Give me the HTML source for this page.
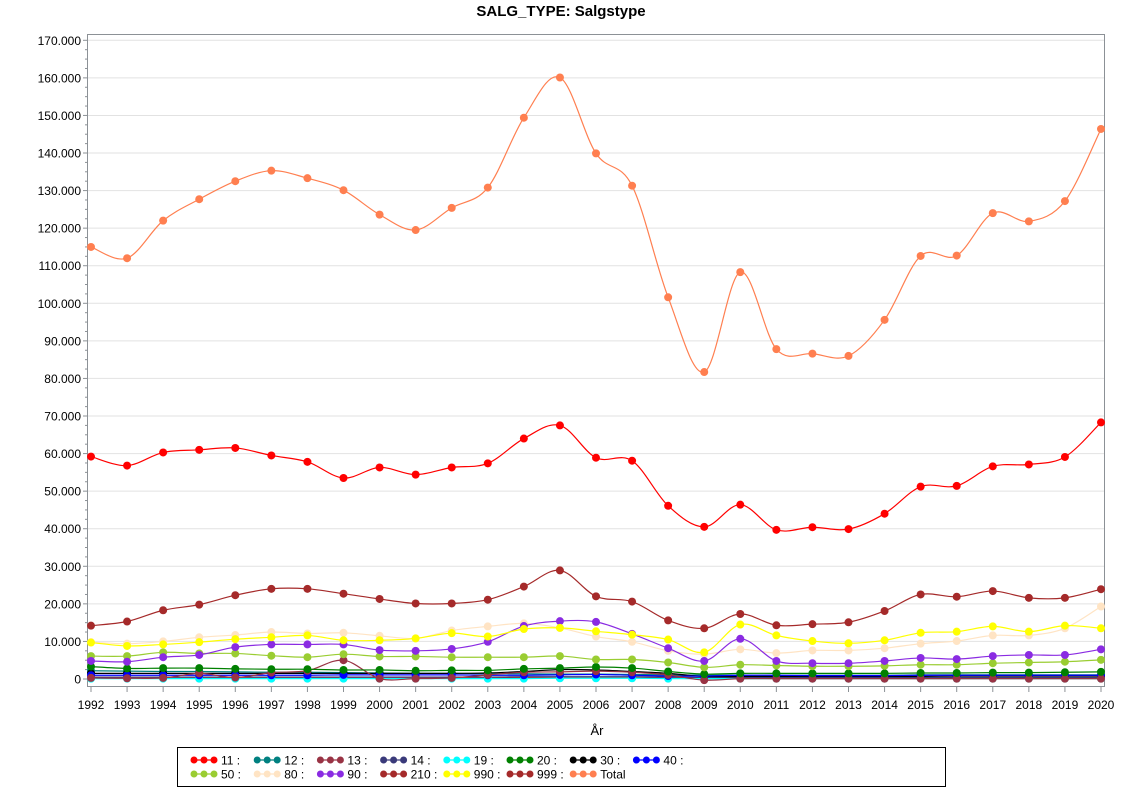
<!DOCTYPE html>
<html><head><meta charset="utf-8"><style>
body{margin:0;background:#fff;}
svg text{font-family:"Liberation Sans",Arial,sans-serif;fill:#000;}
</style></head><body>
<svg id="s" width="1122" height="793" xmlns="http://www.w3.org/2000/svg">
<rect width="1122" height="793" fill="#fff"/>
<text x="561" y="16" font-size="15" font-weight="bold" text-anchor="middle">SALG_TYPE: Salgstype</text>
<g id="grid"></g>
<rect x="87.5" y="34.5" width="1017" height="652" fill="none" stroke="#8c9196" stroke-width="1"/>
<g id="series"></g>
<text x="597" y="735" font-size="13" text-anchor="middle">År</text>
<rect x="177.5" y="747.5" width="768" height="39" fill="none" stroke="#000"/>
<g id="leg"></g>
</svg>
<script>
const NS="http://www.w3.org/2000/svg";
function el(t,a,p){const e=document.createElementNS(NS,t);for(const k in a)e.setAttribute(k,a[k]);p.appendChild(e);return e;}
const X0=91,DX=(1101-91)/28,Y0=679,PY=(679-40.3)/170;
const xf=i=>X0+i*DX, yf=v=>Y0-v*PY;
const g=document.getElementById('grid');
for(let k=0;k<=17;k++){const y=yf(k*10);
 if(k>0) el('line',{x1:88,x2:1104,y1:y,y2:y,stroke:'#e2e2e2'},g);
 el('line',{x1:83,x2:88,y1:y,y2:y,stroke:'#8c9196'},g);
 const t=el('text',{x:81,y:y+4.5,'font-size':12,'text-anchor':'end'},g);
 t.textContent=k==0?'0':(k*10)+'.000';
 if(k<17)for(let m=1;m<4;m++){const yy=yf(k*10+m*2.5);el('line',{x1:85,x2:88,y1:yy,y2:yy,stroke:'#8c9196'},g);}
}
for(let i=0;i<29;i++){const x=xf(i);el('line',{x1:x,x2:x,y1:687,y2:692,stroke:'#8c9196'},g);
 const t=el('text',{x:x,y:709,'font-size':12,'text-anchor':'middle'},g);t.textContent=1992+i;}
const S=[
['12','#008080',[2.2,2.1,2.0,2.0,1.9,1.8,1.8,1.7,1.6,1.5,1.5,1.4,1.4,1.3,1.3,1.2,1.1,1.0,1.0,1.0,1.0,1.0,1.0,1.1,1.1,1.1,1.1,1.1,1.1]],
['14','#3a3a7a',[0.5,0.5,0.5,0.5,0.5,0.5,0.5,0.5,0.5,0.5,0.5,0.5,0.6,0.6,0.6,0.6,0.5,0.4,0.4,0.4,0.4,0.4,0.4,0.4,0.4,0.4,0.4,0.4,0.4]],
['210','#a52a2a',[0.2,0.2,0.2,0.2,0.2,0.2,0.2,0.2,0.2,0.2,0.2,0.2,0.3,0.3,0.3,0.3,0.2,0.1,0.1,0.1,0.1,0.1,0.1,0.1,0.1,0.1,0.1,0.1,0.1]],
['19','#00ffff',[0.1,0.1,0.1,0.1,0.1,0.1,0.1,0.1,0.1,0.1,0.1,0.1,0.1,0.2,0.2,0.2,0.1,0.1,0.1,0.1,0.1,0.1,0.1,0.1,0.1,0.1,0.1,0.1,0.1]],
['30','#000000',[1.5,1.5,1.5,1.5,1.5,1.5,1.5,1.5,1.5,1.5,1.5,1.6,2.0,2.5,2.4,2.0,1.5,0.7,0.7,0.7,0.7,0.7,0.7,0.7,0.8,0.8,0.8,0.8,0.8]],
['40','#0000ff',[1.0,1.0,1.0,1.0,1.0,1.0,1.0,1.1,1.1,1.1,1.1,1.0,1.0,1.1,1.2,1.0,0.8,0.8,1.0,1.0,0.9,0.9,0.9,1.0,1.0,1.0,1.0,1.0,1.0]],
['13','#993344',[0.3,0.2,0.3,1.5,0.4,1.7,2.2,5.0,0.1,0.1,0.3,1.1,1.8,1.9,2.1,1.8,1.1,-0.3,0.1,0.1,0.1,0.1,0.1,0.1,0.1,0.1,0.1,0.1,0.1]],
['20','#008000',[3.3,2.8,2.9,2.9,2.7,2.6,2.6,2.4,2.4,2.2,2.3,2.3,2.7,2.9,3.2,2.9,2.0,1.3,1.5,1.5,1.5,1.5,1.5,1.6,1.6,1.7,1.7,1.8,1.9]],
['50','#9acd32',[6.1,6.1,7.1,6.8,6.8,6.2,5.8,6.6,6.0,6.0,5.8,5.8,5.8,6.1,5.2,5.2,4.4,3.1,3.8,3.6,3.4,3.4,3.5,3.8,3.8,4.2,4.4,4.6,5.1]],
['80','#ffe4c4',[9.8,9.4,10.0,11.1,11.7,12.5,12.1,12.3,11.5,10.8,12.9,14.0,14.8,13.6,11.3,9.9,7.5,6.6,7.9,6.9,7.6,7.6,8.2,9.4,10.1,11.6,11.6,13.5,19.3]],
['90','#8a2be2',[4.8,4.6,5.8,6.4,8.5,9.2,9.2,9.2,7.7,7.5,8.0,9.9,14.1,15.4,15.2,12.0,8.2,4.8,10.7,4.8,4.2,4.2,4.8,5.6,5.3,6.1,6.4,6.4,7.9]],
['990','#ffff00',[9.7,8.8,9.2,9.8,10.6,11.1,11.6,10.3,10.3,10.8,12.2,11.3,13.3,13.6,12.7,11.8,10.5,7.1,14.5,11.6,10.1,9.5,10.3,12.3,12.6,14.0,12.6,14.2,13.5]],
['999','#a52a2a',[14.2,15.3,18.3,19.8,22.3,24.0,24.0,22.7,21.3,20.1,20.1,21.1,24.6,28.9,22.0,20.6,15.6,13.5,17.3,14.3,14.6,15.1,18.1,22.5,21.9,23.4,21.6,21.6,23.9]],
['11','#ff0000',[59.2,56.8,60.3,61.0,61.5,59.5,57.8,53.5,56.3,54.4,56.3,57.4,64.0,67.5,58.9,58.1,46.1,40.5,46.4,39.7,40.4,39.9,44.0,51.2,51.4,56.6,57.1,59.1,68.3]],
['Total','#ff7f50',[115,112,122,127.7,132.5,135.3,133.3,130.1,123.6,119.5,125.4,130.8,149.4,160.1,139.9,131.3,101.6,81.7,108.3,87.8,86.6,86.0,95.6,112.6,112.7,124.0,121.8,127.2,146.4]]
];
const sg=document.getElementById('series');
function path(v){const p=v.map((d,i)=>[xf(i),yf(d)]);let s='M'+p[0][0]+' '+p[0][1];
 for(let i=0;i<p.length-1;i++){const a=p[Math.max(i-1,0)],b=p[i],c=p[i+1],d=p[Math.min(i+2,p.length-1)];
  s+=' C'+(b[0]+(c[0]-a[0])/6)+' '+(b[1]+(c[1]-a[1])/6)+' '+(c[0]-(d[0]-b[0])/6)+' '+(c[1]-(d[1]-b[1])/6)+' '+c[0]+' '+c[1];}
 return s;}
S.forEach(([n,c,v])=>{el('path',{d:path(v),fill:'none',stroke:c,'stroke-width':1.2},sg);
 v.forEach((d,i)=>el('circle',{cx:xf(i),cy:yf(d),r:4,fill:c},sg));});
const L=[['11','#ff0000'],['12','#008080'],['13','#993344'],['14','#3a3a7a'],['19','#00ffff'],['20','#008000'],['30','#000000'],['40','#0000ff'],
['50','#9acd32'],['80','#ffe4c4'],['90','#8a2be2'],['210','#a52a2a'],['990','#ffff00'],['999','#a52a2a'],['Total','#ff7f50']];
const lg=document.getElementById('leg');
L.forEach(([n,c],i)=>{const col=i%8,row=Math.floor(i/8);const x=194+col*63.2,y=760+row*14;
 el('line',{x1:x,x2:x+20,y1:y,y2:y,stroke:c,'stroke-width':1.2},lg);
 [0,10,20].forEach(d=>el('circle',{cx:x+d,cy:y,r:3.5,fill:c},lg));
 const t=el('text',{x:x+27,y:y+4.5,'font-size':12},lg);t.textContent=n=='Total'?'Total':n+' :';});
</script>
</body></html>
